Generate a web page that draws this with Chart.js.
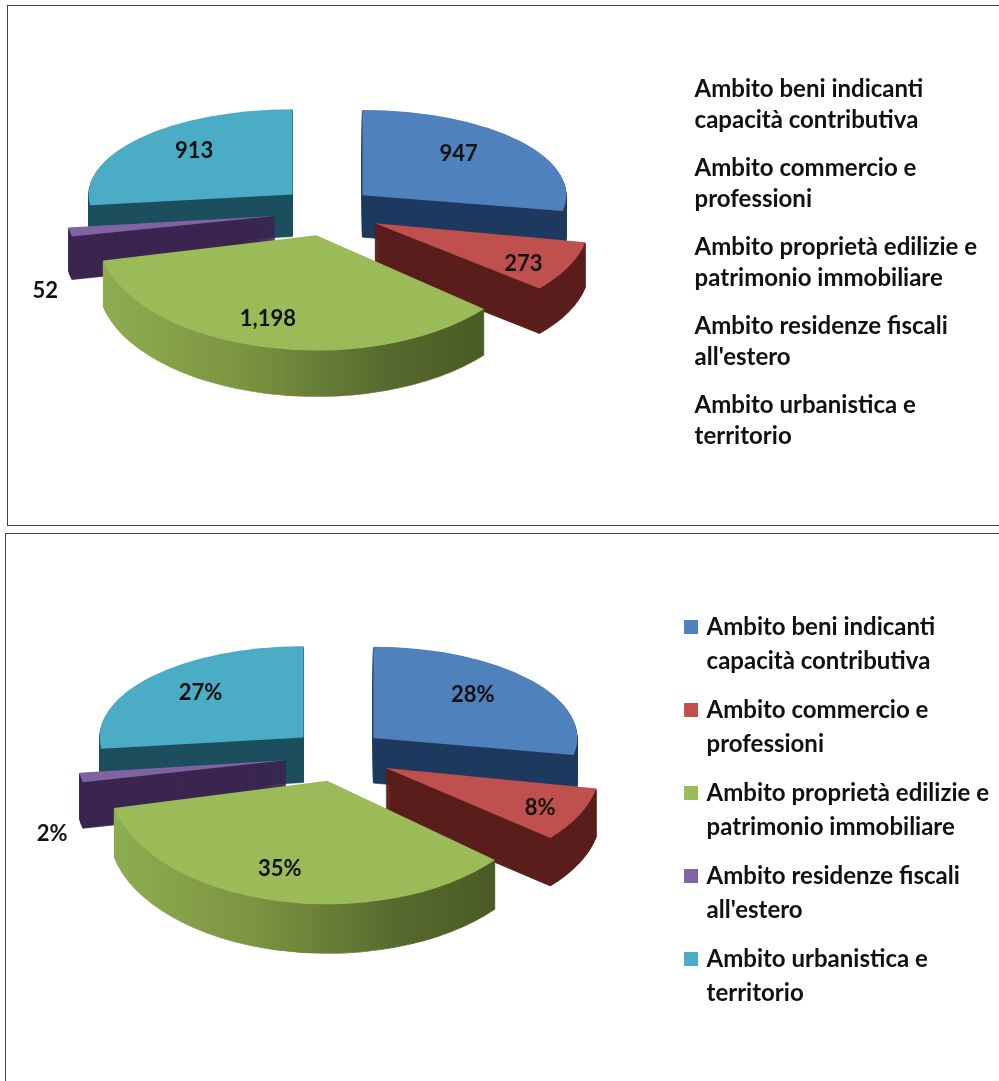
<!DOCTYPE html>
<html>
<head>
<meta charset="utf-8">
<script src="https://cdn.jsdelivr.net/npm/chart.js@4"></script>
<style>
    html, body { margin: 0; padding: 0; background: #fff; overflow: hidden; }
    body { position: relative; width: 999px; height: 1081px; }
    .frame { position: absolute; border: 1px solid #444; box-sizing: border-box; }
    canvas { position: absolute; left: 0; }
</style>
</head>
<body>
<div class="frame" style="left:7px;top:5px;width:993px;height:521px"></div>
<div class="frame" style="left:5px;top:533px;width:995px;height:560px"></div>
<canvas id="countChart" width="999" height="520" style="top:5px"></canvas>
<canvas id="shareChart" width="999" height="548" style="top:533px"></canvas>
<script>
const categories = [
    ["Ambito beni indicanti", "capacità contributiva"],
    ["Ambito commercio e", "professioni"],
    ["Ambito proprietà edilizie e", "patrimonio immobiliare"],
    ["Ambito residenze fiscali", "all'estero"],
    ["Ambito urbanistica e", "territorio"],
];
const counts = [947, 273, 1198, 52, 913];
const count_labels = ["947", "273", "1,198", "52", "913"];
const share_labels = ["28%", "8%", "35%", "2%", "27%"];

const slice_colors = ["#4f81bd", "#c0504d", "#9bbb59", "#8064a2", "#4bacc6"];
const wall_colors = [
    ["#1e3a5f"],
    ["#5b1f1d"],
    ["#8fae52", "#7b9440", "#56692e", "#43541e"],
    ["#3b2650"],
    ["#1d4f5e"],
];

// back to front, so nearer slices cover the walls behind them
const paint_order = [0, 4, 3, 1, 2];

// fake perspective: slices nearer the viewer come out wider and less flat
const explode = [46, 53, 46, 53, 46];
const squash = [0.41, 0.49, 0.555, 0.45, 0.41];
const stretch = [0.98, 1.03, 1.05, 1, 0.98];
const wall_depth = [42, 45, 46, 43, 42];
const explode_tilt = 0.54;
const pie_radius = 208;

function apexOf(arc, index, view) {
    const mid = (arc.startAngle + arc.endAngle) / 2;
    return {
        mid,
        x: view.center_x + explode[index] * Math.cos(mid),
        y: view.center_y + explode[index] * Math.sin(mid) * explode_tilt * view.tall,
    };
}

function placeSlice(ctx, arc, index, view) {
    const apex = apexOf(arc, index, view);
    ctx.translate(apex.x, apex.y);
    ctx.scale(stretch[index], squash[index] * view.tall);
    ctx.translate(-arc.x, -arc.y);
}

function wallFill(ctx, arc, index) {
    const stops = wall_colors[index];
    if (stops.length == 1) return stops[0];
    const gradient = ctx.createLinearGradient(arc.x - pie_radius, 0, arc.x + pie_radius, 0);
    stops.forEach((color, i) => gradient.addColorStop(i / (stops.length - 1), color));
    return gradient;
}

function drawWall(ctx, arc, fill) {
    const saved = arc.options;
    // the thin border closes the antialiased seams between the stacked layers
    arc.options = Object.create(saved, {
        backgroundColor: { value: fill },
        borderColor: { value: fill },
        borderWidth: { value: 1 },
    });
    arc.draw(ctx);
    arc.options = saved;
}

function pie3d(view) {
    return {
        id: "pie3d",
        beforeDatasetsDraw(chart) {
            const ctx = chart.ctx;
            const arcs = chart.getDatasetMeta(0).data;
            paint_order.forEach((index) => {
                const arc = arcs[index];
                const fill = wallFill(ctx, arc, index);
                const depth = Math.round(wall_depth[index] * view.tall);
                for (let d = depth; d > 0; d--) {
                    ctx.save();
                    ctx.translate(0, d);
                    placeSlice(ctx, arc, index, view);
                    drawWall(ctx, arc, fill);
                    ctx.restore();
                }
                ctx.save();
                placeSlice(ctx, arc, index, view);
                arc.draw(ctx);
                ctx.restore();
            });
            return false;
        },
        afterDraw(chart) {
            const ctx = chart.ctx;
            const arcs = chart.getDatasetMeta(0).data;
            ctx.save();
            ctx.font = "bold 22px Lato";
            ctx.fillStyle = "#111";
            ctx.textAlign = "center";
            ctx.textBaseline = "middle";
            arcs.forEach((arc, index) => {
                const apex = apexOf(arc, index, view);
                const reach = view.label_reach[index] * pie_radius;
                const x = apex.x + reach * Math.cos(apex.mid);
                const y = apex.y + reach * Math.sin(apex.mid) * squash[index] * view.tall + view.label_lift[index];
                ctx.fillText(view.labels[index], x, y);
            });
            ctx.restore();
        },
    };
}

function drawPie(canvas_id, view, legend_labels) {
    new Chart(document.getElementById(canvas_id), {
        type: "pie",
        data: {
            labels: categories,
            datasets: [{
                data: counts,
                backgroundColor: slice_colors,
                borderWidth: 0,
                radius: pie_radius,
            }],
        },
        options: {
            responsive: false,
            animation: false,
            layout: { padding: { top: view.legend_top, right: view.legend_right } },
            plugins: {
                tooltip: { enabled: false },
                legend: {
                    position: "right",
                    labels: legend_labels,
                },
            },
        },
        plugins: [pie3d(view)],
    });
}

// fat stroke around a small box: keeps the swatch size but pulls the text closer
function squareSwatches(chart) {
    const items = Chart.overrides.pie.plugins.legend.labels.generateLabels(chart);
    return items.map((item) => ({ ...item, lineWidth: 7, strokeStyle: item.fillStyle }));
}

drawPie("countChart", {
    center_x: 327,
    center_y: 206,
    tall: 1,
    labels: count_labels,
    label_reach: [0.6, 0.79, 0.99, 1.12, 0.63],
    label_lift: [-9, 6, -27, 57, -8],
    legend_top: 2,
    legend_right: 12,
}, {
    boxWidth: 0,
    padding: 17,
    color: "#111",
    font: { family: "Lato", size: 24, weight: "bold", lineHeight: 31 / 24 },
});

drawPie("shareChart", {
    center_x: 338,
    center_y: 222,
    tall: 1.07,
    labels: share_labels,
    label_reach: [0.62, 0.82, 0.97, 1.14, 0.66],
    label_lift: [-7, 2, -28, 54, -5],
    legend_top: 16,
    legend_right: 0,
}, {
    boxWidth: 7,
    boxHeight: 7,
    padding: 15,
    color: "#111",
    generateLabels: squareSwatches,
    font: { family: "Lato", size: 24, weight: "bold", lineHeight: 34 / 24 },
});
</script>
</body>
</html>
